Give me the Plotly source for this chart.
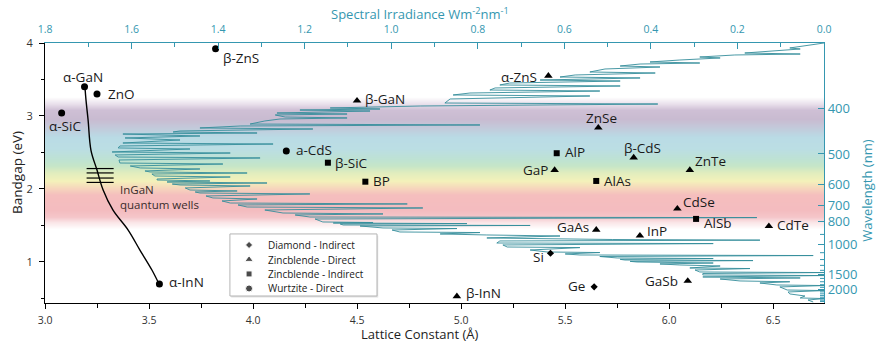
import plotly.graph_objects as go

# ---------------------------------------------------------------------------
# Semiconductor data: lattice constant (Å), bandgap (eV), crystal structure
# ---------------------------------------------------------------------------
materials = ["β-ZnS", "α-GaN", "ZnO", "α-SiC", "α-InN", "a-CdS", "β-SiC", "BP",
             "β-GaN", "α-ZnS", "ZnSe", "AlP", "GaP", "β-CdS", "ZnTe", "AlAs",
             "CdSe", "AlSb", "CdTe", "GaAs", "InP", "Si", "Ge", "GaSb", "β-InN"]
lattice = [3.82, 3.19, 3.25, 3.08, 3.55, 4.16, 4.36, 4.54,
           4.50, 5.42, 5.66, 5.46, 5.45, 5.83, 6.10, 5.65,
           6.04, 6.13, 6.48, 5.65, 5.86, 5.43, 5.64, 6.09, 4.98]
bandgap = [3.92, 3.40, 3.30, 3.04, 0.70, 2.52, 2.36, 2.10,
           3.21, 3.55, 2.84, 2.49, 2.26, 2.43, 2.26, 2.11,
           1.73, 1.59, 1.49, 1.44, 1.36, 1.12, 0.66, 0.74, 0.53]
structure = ["WD", "WD", "WD", "WD", "WD", "WD", "ZI", "ZI",
             "ZD", "ZD", "ZD", "ZI", "ZD", "ZD", "ZD", "ZI",
             "ZD", "ZI", "ZD", "ZD", "ZD", "DI", "DI", "ZD", "ZD"]

structure_names = {"DI": "Diamond - Indirect", "ZD": "Zincblende - Direct",
                   "ZI": "Zincblende - Indirect", "WD": "Wurtzite - Direct"}
legend_order = ["DI", "ZD", "ZI", "WD"]

# InGaN alloy line from α-GaN to α-InN
ingan_lattice = [3.192, 3.197, 3.207, 3.221, 3.250, 3.279, 3.327, 3.399, 3.457, 3.514, 3.548]
ingan_gap = [3.40, 3.22, 2.95, 2.53, 2.26, 1.99, 1.71, 1.44, 1.16, 0.89, 0.70]

# InGaN quantum well levels
qw_gap = [2.28, 2.22, 2.15, 2.09]
qw_lattice_span = [3.20, 3.33]

# Solar spectral irradiance (W m^-2 nm^-1) against photon energy (eV)
spec_ev = [4.000, 3.959, 3.932, 3.918, 3.890, 3.863, 3.849, 3.836, 3.808, 3.795,
           3.767, 3.740, 3.726, 3.712, 3.685, 3.671, 3.644, 3.603, 3.589, 3.562,
           3.534, 3.521, 3.493, 3.479, 3.452, 3.425, 3.411, 3.384, 3.356, 3.342,
           3.315, 3.288, 3.274, 3.233, 3.178, 3.164, 3.137, 3.110, 3.096, 3.082,
           3.068, 3.041, 3.027, 3.014, 2.986, 2.973, 2.959, 2.932, 2.890, 2.877,
           2.863, 2.836, 2.822, 2.795, 2.781, 2.767, 2.753, 2.726, 2.699, 2.671,
           2.630, 2.616, 2.589, 2.562, 2.548, 2.507, 2.493, 2.466, 2.438, 2.425,
           2.397, 2.356, 2.342, 2.315, 2.288, 2.274, 2.247, 2.233, 2.219, 2.205,
           2.178, 2.164, 2.137, 2.123, 2.110, 2.096, 2.082, 2.068, 2.055, 2.041,
           2.014, 1.986, 1.973, 1.959, 1.945, 1.932, 1.904, 1.877, 1.863, 1.836,
           1.808, 1.795, 1.781, 1.753, 1.740, 1.712, 1.671, 1.658, 1.644, 1.616,
           1.608, 1.589, 1.548, 1.541, 1.534, 1.526, 1.521, 1.507, 1.500, 1.493,
           1.466, 1.458, 1.438, 1.411, 1.403, 1.384, 1.370, 1.356, 1.329, 1.315,
           1.308, 1.299, 1.288, 1.260, 1.252, 1.233, 1.205, 1.197, 1.164, 1.137,
           1.129, 1.110, 1.096, 1.088, 1.075, 1.055, 1.047, 1.036, 1.027, 1.019,
           1.008, 1.000, 0.986, 0.973, 0.959, 0.945, 0.918, 0.910, 0.890, 0.863,
           0.855, 0.842, 0.822, 0.814, 0.795, 0.781, 0.767, 0.740, 0.729, 0.712,
           0.685, 0.677, 0.658, 0.616, 0.608, 0.589, 0.562, 0.534, 0.507, 0.499,
           0.479, 0.452]
spec_irr = [0.000, 0.055, 0.079, 0.055, 0.125, 0.183, 0.055, 0.206, 0.287, 0.240,
            0.333, 0.402, 0.287, 0.425, 0.471, 0.379, 0.506, 0.541, 0.390, 0.575,
            0.610, 0.425, 0.656, 0.471, 0.726, 0.749, 0.471, 0.760, 0.772, 0.518,
            0.818, 0.857, 0.541, 0.864, 0.876, 0.384, 0.933, 1.141, 1.026, 1.211,
            1.049, 1.264, 1.102, 1.268, 1.245, 1.102, 1.257, 1.292, 1.326, 0.795,
            1.349, 1.442, 1.181, 1.488, 1.504, 1.310, 1.620, 1.442, 1.615, 1.488,
            1.620, 1.273, 1.627, 1.631, 1.465, 1.645, 1.372, 1.638, 1.631, 1.303,
            1.629, 1.627, 1.389, 1.603, 1.580, 1.442, 1.569, 1.557, 1.333, 1.553,
            1.546, 1.372, 1.541, 1.541, 1.419, 1.518, 1.287, 1.506, 1.488, 1.326,
            1.476, 1.465, 1.356, 1.453, 1.442, 1.188, 1.428, 1.412, 1.310, 1.391,
            1.372, 0.963, 1.354, 1.333, 0.927, 1.292, 1.250, 1.019, 1.222, 1.188,
            0.155, 1.176, 1.158, 1.042, 1.134, 0.825, 1.118, 1.111, 0.679, 1.072,
            1.019, 0.848, 0.998, 0.980, 0.795, 0.887, 0.779, 0.610, 0.779, 0.548,
            0.488, 0.148, 0.749, 0.756, 0.256, 0.742, 0.732, 0.564, 0.679, 0.640,
            0.518, 0.598, 0.564, 0.025, 0.518, 0.478, 0.256, 0.471, 0.460, 0.164,
            0.448, 0.432, 0.256, 0.379, 0.333, 0.240, 0.310, 0.171, 0.298, 0.287,
            0.000, 0.280, 0.280, 0.000, 0.280, 0.055, 0.240, 0.194, 0.079, 0.148,
            0.109, 0.000, 0.102, 0.085, 0.000, 0.083, 0.079, 0.044, 0.055, 0.000,
            0.037, 0.025]

# Wavelength scale on the right-hand axis (nm)
wavelength_ticks = [400, 500, 600, 700, 800, 1000, 1500, 2000]
wavelength_minor = [900, 1100, 1200, 1300, 1400, 1600, 1700, 1800, 1900,
                    2100, 2200, 2300, 2400, 2500, 2600, 2700]
HC_EV_NM = 1239.84

# Visible-spectrum colour band behind the plot (energy in eV -> colour)
band_ev = [1.46, 1.55, 1.62, 1.72, 1.92, 2.02, 2.12, 2.22, 2.32, 2.42,
           2.55, 2.72, 2.85, 2.96, 3.08, 3.17, 3.26]
band_rgb = ["rgb(255,255,255)", "rgb(250,228,230)", "rgb(245,198,202)",
            "rgb(244,188,191)", "rgb(245,190,190)", "rgb(246,214,188)",
            "rgb(244,241,186)", "rgb(226,237,190)", "rgb(198,230,200)",
            "rgb(190,226,212)", "rgb(187,222,228)", "rgb(186,219,229)",
            "rgb(196,201,218)", "rgb(201,187,209)", "rgb(207,192,213)",
            "rgb(233,224,235)", "rgb(255,255,255)"]

TEAL = "#3597b0"
SPEC = "#348d9b"
FONT = "Open Sans"

fig = go.Figure()

# colour band (drawn on the irradiance/energy subplot, beneath everything)
lo, hi = band_ev[0], band_ev[-1]
fig.add_trace(go.Heatmap(
    x=[2.0, -0.2], y=band_ev, z=[[e, e] for e in band_ev],
    zmin=lo, zmax=hi, zsmooth="best", showscale=False, hoverinfo="skip",
    colorscale=[[(e - lo) / (hi - lo), c] for e, c in zip(band_ev, band_rgb)],
    xaxis="x2", yaxis="y"))

# solar spectrum
fig.add_trace(go.Scatter(
    x=spec_irr, y=spec_ev, mode="lines", xaxis="x2", yaxis="y",
    line=dict(color=SPEC, width=0.9), hoverinfo="skip"))

# invisible anchor so the wavelength axis has a subplot to draw on
fig.add_trace(go.Scatter(
    x=[0.9], y=[2.0], mode="markers", xaxis="x2", yaxis="y2",
    marker=dict(opacity=0), hoverinfo="skip"))

# InGaN alloy curve and quantum-well levels
fig.add_trace(go.Scatter(
    x=ingan_lattice, y=ingan_gap, mode="lines", line_shape="spline",
    line=dict(color="black", width=1.4), xaxis="x", yaxis="y", hoverinfo="skip"))
qw_x, qw_y = [], []
for g in qw_gap:
    qw_x += [qw_lattice_span[0], qw_lattice_span[1], None]
    qw_y += [g, g, None]
fig.add_trace(go.Scatter(x=qw_x, y=qw_y, mode="lines",
                         line=dict(color="black", width=1.2),
                         xaxis="x", yaxis="y", hoverinfo="skip"))

# material markers, one trace per structure type
symbols = {"DI": ("diamond", 5.5), "ZD": ("triangle-up", 7.5),
           "ZI": ("square", 6), "WD": ("circle", 7)}
for key in legend_order:
    idx = [i for i, s in enumerate(structure) if s == key]
    sym, size = symbols[key]
    fig.add_trace(go.Scatter(
        x=[lattice[i] for i in idx], y=[bandgap[i] for i in idx],
        text=[materials[i] for i in idx], mode="markers", name=structure_names[key],
        marker=dict(symbol=sym, size=size, color="black"),
        xaxis="x", yaxis="y"))

# label placement: (xanchor, xshift px, yshift px)
label_pos = {
    "β-ZnS": ("left", 5, -9), "α-GaN": ("center", -2, 10), "ZnO": ("left", 9, 0),
    "α-SiC": ("center", 3, -13), "α-InN": ("left", 8, 2), "a-CdS": ("left", 8, 1),
    "β-SiC": ("left", 5, 0), "BP": ("left", 6, 1), "β-GaN": ("left", 6, 2),
    "α-ZnS": ("right", -9, -1), "ZnSe": ("center", 3, 10), "AlP": ("left", 6, 1),
    "GaP": ("right", -5, 0), "β-CdS": ("center", 9, 10), "ZnTe": ("left", 3, 9),
    "AlAs": ("left", 6, 0), "CdSe": ("left", 4, 7), "AlSb": ("left", 6, -4),
    "CdTe": ("left", 6, 1), "GaAs": ("right", -5, 3), "InP": ("left", 5, 5),
    "Si": ("right", -4, -4), "Ge": ("right", -7, 1), "GaSb": ("right", -8, 0),
    "β-InN": ("left", 7, 3),
}
annotations = []
for name, a, g in zip(materials, lattice, bandgap):
    anchor, dx, dy = label_pos[name]
    annotations.append(dict(
        x=a, y=g, xref="x", yref="y", text=name, showarrow=False,
        xanchor=anchor, yanchor="middle", xshift=dx, yshift=dy,
        font=dict(family=FONT, size=13.5, color="#1a1a1a")))

annotations.append(dict(
    x=3.351, y=1.89, xref="x", yref="y", text="InGaN<br>quantum wells",
    showarrow=False, xanchor="left", yanchor="middle", align="left",
    font=dict(family=FONT, size=11.5, color="#3a2c2c")))

# hand-built legend box
leg_box = dict(x0=3.889, x1=4.596, y0=0.534, y1=1.384)
leg_sym_x, leg_text_x = 3.981, 4.062
leg_rows = [1.233, 1.034, 0.836, 0.637]
shapes = [dict(type="rect", xref="x", yref="y", layer="below",
               x0=leg_box["x0"] + 0.006, x1=leg_box["x1"] + 0.006,
               y0=leg_box["y0"] - 0.02, y1=leg_box["y1"] - 0.02,
               line=dict(width=0), fillcolor="rgba(0,0,0,0.12)"),
          dict(type="rect", xref="x", yref="y", layer="below", **leg_box,
               line=dict(color="#b5b5b5", width=1), fillcolor="white")]
fig.add_trace(go.Scatter(
    x=[leg_sym_x] * 4, y=leg_rows, mode="markers", xaxis="x", yaxis="y",
    marker=dict(symbol=[symbols[k][0] for k in legend_order],
                size=[symbols[k][1] for k in legend_order], color="black"),
    hoverinfo="skip"))
for key, ry in zip(legend_order, leg_rows):
    annotations.append(dict(
        x=leg_text_x, y=ry, xref="x", yref="y", text=structure_names[key],
        showarrow=False, xanchor="left", yanchor="middle",
        font=dict(family=FONT, size=10, color="#1a1a1a")))

# short inside ticks for intermediate wavelengths on the right axis
for w in wavelength_minor:
    e = HC_EV_NM / w
    shapes.append(dict(type="line", xref="paper", yref="y", xsizemode="pixel",
                       xanchor=1, x0=-4, x1=0, y0=e, y1=e,
                       line=dict(color=TEAL, width=1)))

# axis titles
annotations += [
    dict(x=0.481, y=1.115, xref="paper", yref="paper", showarrow=False,
         xanchor="center", yanchor="middle",
         text="Spectral Irradiance Wm<sup>-2</sup>nm<sup>-1</sup>",
         font=dict(family=FONT, size=13, color=TEAL)),
    dict(x=0.481, y=-0.118, xref="paper", yref="paper", showarrow=False,
         xanchor="center", yanchor="middle",
         text="Lattice Constant (Å)", font=dict(family=FONT, size=13, color="#222")),
    dict(x=-0.036, y=0.504, xref="paper", yref="paper", showarrow=False,
         xanchor="center", yanchor="middle",
         text="Bandgap (eV)", textangle=-90,
         font=dict(family=FONT, size=13.5, color="#222")),
    dict(x=1.055, y=0.431, xref="paper", yref="paper", showarrow=False,
         xanchor="center", yanchor="middle",
         text="Wavelength (nm)", textangle=-90,
         font=dict(family=FONT, size=13, color=TEAL)),
]

y_range = [0.438, 4.0]
fig.update_layout(
    width=877, height=347, margin=dict(l=45, r=53, t=43, b=44),
    paper_bgcolor="white", plot_bgcolor="white", showlegend=False,
    font=dict(family=FONT, color="#222"),
    xaxis2=dict(range=[1.8, 0.0], side="top", anchor="y", showgrid=False,
                zeroline=False, showline=True, linecolor=TEAL, linewidth=1.2,
                ticks="inside", ticklen=6, tickcolor=TEAL, tick0=0, dtick=0.2,
                tickformat=".1f", tickfont=dict(size=10.5, color=TEAL),
                ticklabelstandoff=5,
                minor=dict(ticks="inside", ticklen=4, tickcolor=TEAL, dtick=0.1)),
    xaxis=dict(range=[3.0, 6.745], overlaying="x2", side="bottom", anchor="y",
               showgrid=False, zeroline=False, showline=True, linecolor="black",
               linewidth=1, ticks="outside", ticklen=5, tickcolor="black",
               tick0=3.0, dtick=0.5, tickformat=".1f",
               tickfont=dict(size=10.5, color="#333"), ticklabelstandoff=2,
               minor=dict(ticks="outside", ticklen=4, tickcolor="black", dtick=0.25)),
    yaxis=dict(range=y_range, anchor="x2", showgrid=False, zeroline=False,
               showline=True, linecolor="black", linewidth=1.2, ticks="outside",
               ticklen=5, tickcolor="black", tick0=0, dtick=1,
               tickfont=dict(size=11, color="#333"), ticklabelstandoff=4,
               minor=dict(ticks="outside", ticklen=3, tickcolor="black", dtick=0.5)),
    yaxis2=dict(range=y_range, overlaying="y", side="right", anchor="x2",
                showgrid=False, zeroline=False, showline=True, linecolor=TEAL,
                linewidth=1.2, ticks="inside", ticklen=6, tickcolor=TEAL,
                tickmode="array",
                tickvals=[HC_EV_NM / w for w in wavelength_ticks],
                ticktext=[str(w) for w in wavelength_ticks],
                tickfont=dict(size=13, color=TEAL)),
    annotations=annotations, shapes=shapes,
)

fig.write_html("out.html")
